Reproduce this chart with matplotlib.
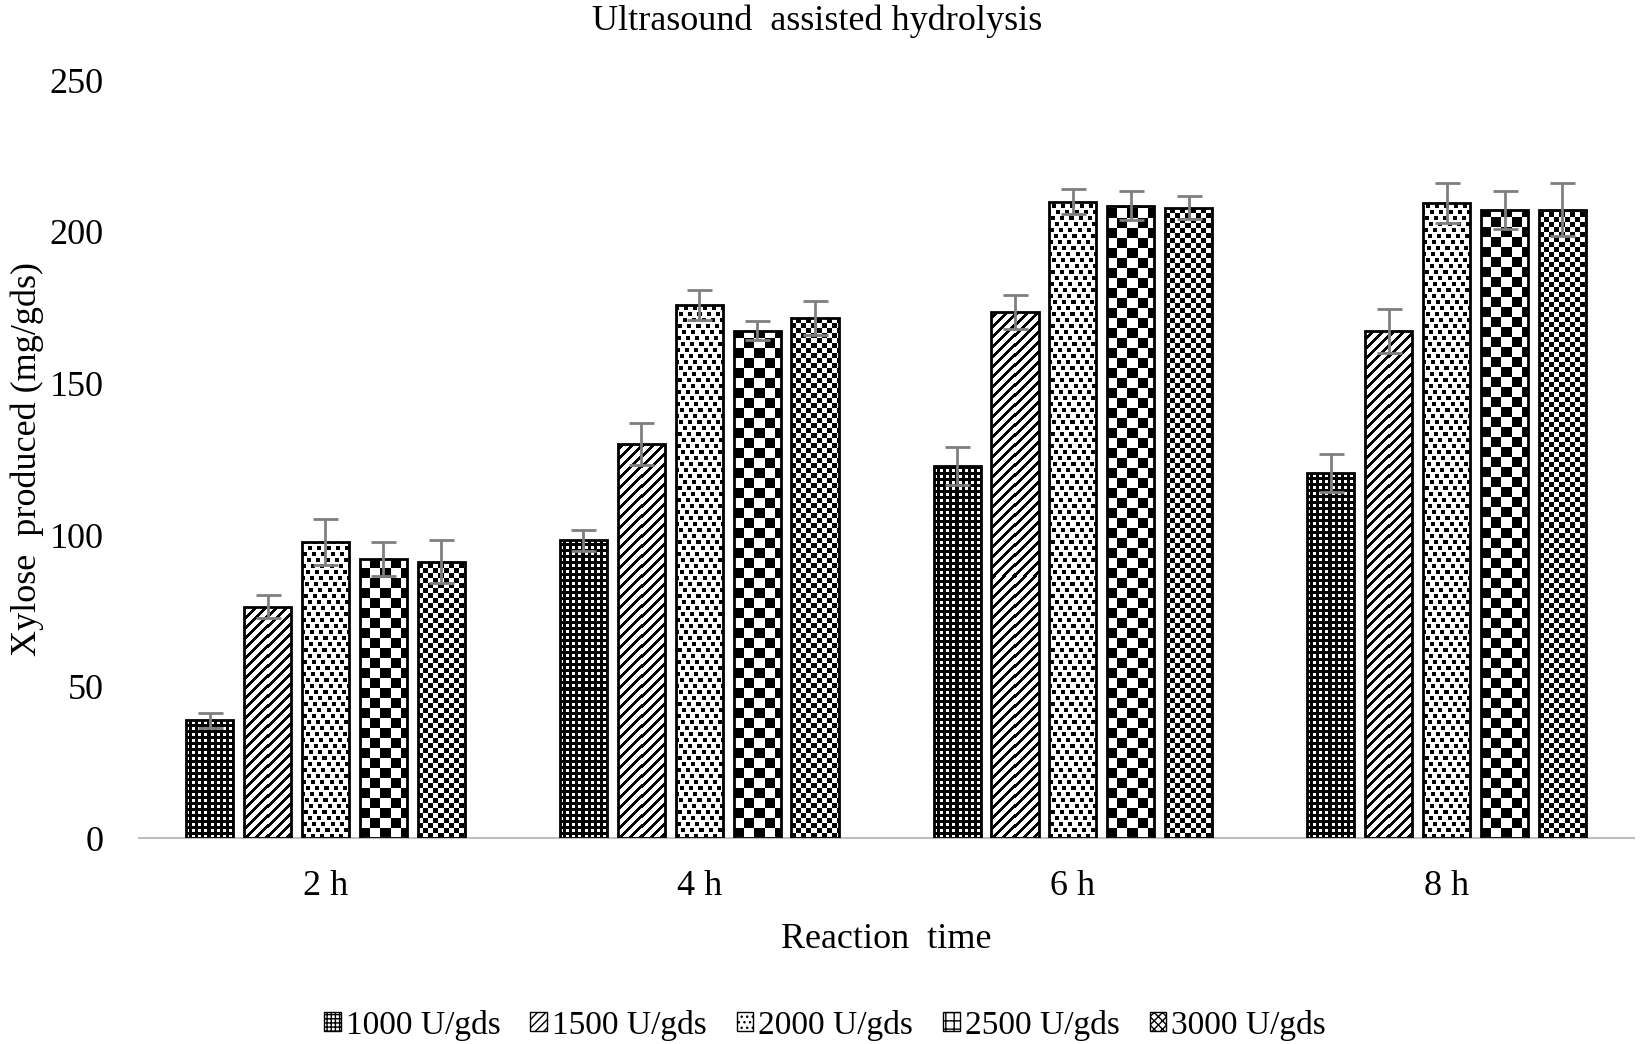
import numpy as np
import matplotlib
matplotlib.use("Agg")
import matplotlib.pyplot as plt
from matplotlib.patches import Patch

plt.rcParams['font.family'] = ['Liberation Serif', 'DejaVu Serif']

times = ['2 h', '4 h', '6 h', '8 h']
doses = ['1000 U/gds', '1500 U/gds', '2000 U/gds', '2500 U/gds', '3000 U/gds']

xylose = {
    '1000 U/gds': [38.9, 98.3, 122.9, 120.5],
    '1500 U/gds': [76.4, 130.2, 173.6, 167.4],
    '2000 U/gds': [97.6, 176.0, 210.0, 209.4],
    '2500 U/gds': [92.0, 167.4, 208.7, 207.3],
    '3000 U/gds': [91.3, 171.5, 208.0, 207.3],
}
errors = {
    '1000 U/gds': [2.5, 3.5, 6.3, 6.3],
    '1500 U/gds': [3.8, 6.9, 5.6, 7.3],
    '2000 U/gds': [7.6, 4.9, 4.2, 6.6],
    '2500 U/gds': [5.6, 3.1, 4.9, 6.3],
    '3000 U/gds': [7.0, 5.6, 3.8, 8.7],
}


# pixel textures for each series (True = black), Y grows upward
def tex_grid(X, Y):
    return ~(((X % 6) < 3) & ((Y % 6) < 3))

def tex_diag(X, Y):
    return ((X - Y) % 10) < 4

def tex_dots(X, Y):
    row = Y // 6
    return (((X + 4 * row) % 9) < 4) & ((Y % 6) < 4)

def tex_checker(X, Y):
    return ((X // 10 + Y // 10) % 2) == 0

def tex_fine_checker(X, Y):
    return ((X // 5 + Y // 5) % 2) == 0

textures = [tex_grid, tex_diag, tex_dots, tex_checker, tex_fine_checker]
legend_hatch = ['++++', '////', '...', '++', 'xxxx']

fig = plt.figure(figsize=(16.5, 10.44), dpi=100)
ax = fig.add_axes([0.084, 0.197, 0.906, 0.726])

x = np.arange(len(times))
slot = 0.155
width = 0.126
ax.set_xlim(-0.5, len(times) - 0.5)
ax.set_ylim(0, 250)

for i, d in enumerate(doses):
    pos = x + (i - 2) * slot
    bars = ax.bar(pos, xylose[d], width, facecolor='none', edgecolor='black',
                  linewidth=2, zorder=3)
    for b in bars:
        x0, y0 = ax.transData.transform((b.get_x(), 0))
        x1, y1 = ax.transData.transform((b.get_x() + b.get_width(), b.get_height()))
        W = max(int(round(x1 - x0)), 1)
        H = max(int(round(y1 - y0)), 1)
        X, Y = np.meshgrid(np.arange(W), np.arange(H)[::-1])
        img = np.where(textures[i](X, Y), 0.0, 1.0)
        im = ax.imshow(img, extent=(b.get_x(), b.get_x() + b.get_width(), 0, b.get_height()),
                       origin='upper', interpolation='nearest', aspect='auto',
                       cmap='gray', vmin=0, vmax=1, zorder=2)
        im.set_clip_path(b)
    ax.errorbar(pos, xylose[d], yerr=errors[d], fmt='none', ecolor='#7f7f7f',
                elinewidth=2, capsize=9, capthick=2, zorder=4)

ax.set_xlim(-0.5, len(times) - 0.5)
ax.set_ylim(0, 250)
ax.set_xticks(x)
ax.set_xticklabels(times)
ax.set_yticks(np.arange(0, 251, 50))
ax.tick_params(axis='both', length=0, labelsize=26)
ax.tick_params(axis='x', pad=23)
ax.tick_params(axis='y', pad=25)
for s in ['top', 'right', 'left']:
    ax.spines[s].set_visible(False)
ax.spines['bottom'].set_color('#bfbfbf')
ax.spines['bottom'].set_linewidth(1.5)

ax.set_xlabel('Reaction  time', fontsize=26, labelpad=14)
ax.set_ylabel('Xylose  produced (mg/gds)', fontsize=26, labelpad=4)
fig.text(0.495, 0.980, 'Ultrasound  assisted hydrolysis', ha='center', va='center', fontsize=26)

handles = [Patch(facecolor='white', edgecolor='black', hatch=h, linewidth=1) for h in legend_hatch]
fig.legend(handles, doses, loc='center', bbox_to_anchor=(0.5, 0.018), ncol=5,
           frameon=False, fontsize=24, handlelength=0.5, handleheight=0.5,
           handletextpad=0.15, columnspacing=0.9)

fig.savefig('out.png', dpi=100)
